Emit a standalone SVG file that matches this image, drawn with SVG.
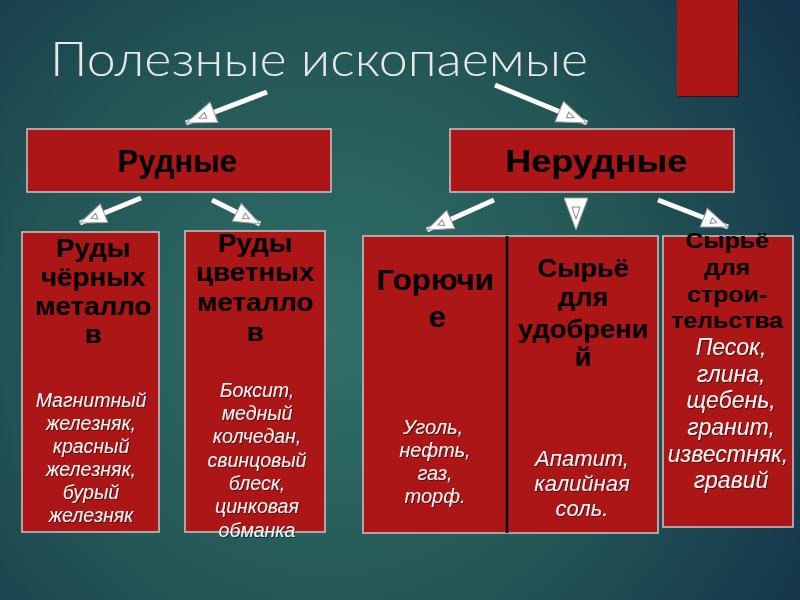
<svg xmlns="http://www.w3.org/2000/svg" width="800" height="600" viewBox="0 0 800 600">
<defs>
<radialGradient id="bg" cx="330" cy="330" r="560" gradientUnits="userSpaceOnUse">
<stop offset="0" stop-color="#307069"/>
<stop offset="0.55" stop-color="#235555"/>
<stop offset="1" stop-color="#14334a"/>
</radialGradient>
<marker id="ah" markerUnits="userSpaceOnUse" markerWidth="34" markerHeight="26" refX="31" refY="12" orient="auto">
<path d="M1,1 L31,12 L1,23 Z" fill="#ffffff" stroke="#9a9a9a" stroke-width="1"/>
<path d="M10,9 L17,12 L10,15 Z" fill="none" stroke="#8a8a8a" stroke-width="1"/>
</marker>
<marker id="ahs" markerUnits="userSpaceOnUse" markerWidth="30" markerHeight="24" refX="27" refY="11" orient="auto">
<path d="M1,1 L27,11 L1,21 Z" fill="#ffffff" stroke="#9a9a9a" stroke-width="1"/>
<path d="M9,8 L15,11 L9,14 Z" fill="none" stroke="#8a8a8a" stroke-width="1"/>
</marker>
<filter id="sh" x="-10%" y="-10%" width="120%" height="130%">
<feDropShadow dx="1" dy="1" stdDeviation="0.6" flood-color="#000" flood-opacity="0.5"/>
</filter>
</defs>
<style>
.box{fill:#ad1616;stroke:#c8c8c8;stroke-width:1.5}
.hd{font-family:"Liberation Sans",Arial,sans-serif;font-weight:bold;fill:#000;text-anchor:middle}
.it{font-family:"Liberation Sans",Arial,sans-serif;font-style:italic;fill:#f4f4f4;text-anchor:middle;filter:url(#sh)}
.arr{stroke:#ffffff;stroke-width:5;fill:none}
</style>
<rect width="800" height="600" fill="url(#bg)"/>
<rect x="677" y="0" width="61" height="96" fill="#ad1616" filter="url(#sh)"/>
<text x="50" y="76" font-family="Lato,'Liberation Sans',Arial,sans-serif" font-weight="300" font-size="48" fill="#e8e8e8" textLength="538" lengthAdjust="spacingAndGlyphs">Полезные ископаемые</text>

<g id="connectors">
<line class="arr" x1="267" y1="92" x2="186" y2="123" marker-end="url(#ah)"/>
<line class="arr" x1="495" y1="85" x2="587" y2="123" marker-end="url(#ah)"/>
<line class="arr" x1="141" y1="198" x2="80" y2="223" marker-end="url(#ahs)"/>
<line class="arr" x1="212" y1="200" x2="260" y2="224" marker-end="url(#ahs)"/>
<line class="arr" x1="494" y1="200" x2="427" y2="230" marker-end="url(#ahs)"/>
<line class="arr" x1="658" y1="200" x2="728" y2="227" marker-end="url(#ahs)"/>
<path d="M564,198 L588,198 L576,230 Z" fill="#ffffff" stroke="#9a9a9a" stroke-width="1"/>
<path d="M572,207 L580,207 L576,219 Z" fill="none" stroke="#8a8a8a" stroke-width="1"/>
</g>

<g id="rudnye">
<rect class="box" x="27" y="129" width="304" height="63"/>
<text class="hd" x="177" y="172" font-size="31">Рудные</text>
</g>
<g id="nerudnye">
<rect class="box" x="450" y="129" width="284" height="63"/>
<text class="hd" x="596" y="172" font-size="31" textLength="182" lengthAdjust="spacingAndGlyphs">Нерудные</text>
</g>

<g id="chernye">
<rect class="box" x="22" y="232" width="137" height="300"/>
<g transform="translate(93,0) scale(1.07,1) translate(-93,0)">
<text class="hd" font-size="26"><tspan x="93" y="257">Руды</tspan><tspan x="93" y="286">чёрных</tspan><tspan x="93" y="315">металло</tspan><tspan x="93" y="343">в</tspan></text>
</g>
<text class="it" font-size="19.5"><tspan x="91" y="407">Магнитный</tspan><tspan x="91" y="430">железняк,</tspan><tspan x="91" y="453">красный</tspan><tspan x="91" y="476">железняк,</tspan><tspan x="91" y="499">бурый</tspan><tspan x="91" y="522">железняк</tspan></text>
</g>

<g id="tsvetnye">
<rect class="box" x="185" y="231" width="140" height="301"/>
<g transform="translate(255,0) scale(1.07,1) translate(-255,0)">
<text class="hd" font-size="26"><tspan x="255" y="252">Руды</tspan><tspan x="255" y="281">цветных</tspan><tspan x="255" y="311">металло</tspan><tspan x="255" y="341">в</tspan></text>
</g>
<text class="it" font-size="19.5"><tspan x="257" y="397">Боксит,</tspan><tspan x="257" y="420">медный</tspan><tspan x="257" y="443">колчедан,</tspan><tspan x="257" y="467">свинцовый</tspan><tspan x="257" y="490">блеск,</tspan><tspan x="257" y="513">цинковая</tspan><tspan x="257" y="537">обманка</tspan></text>
</g>

<g id="goryuchie">
<rect class="box" x="363" y="236" width="295" height="297"/>
<line x1="507" y1="236" x2="507" y2="533" stroke="#000" stroke-width="2.5"/>
<g transform="translate(435,0) scale(1.08,1) translate(-435,0)">
<text class="hd" font-size="29"><tspan x="435" y="290">Горючи</tspan><tspan x="437" y="327">е</tspan></text>
</g>
<text class="it" font-size="20"><tspan x="433" y="434">Уголь,</tspan><tspan x="435" y="457">нефть,</tspan><tspan x="435" y="480">газ,</tspan><tspan x="435" y="503">торф.</tspan></text>
</g>

<g id="udobreniya">
<g transform="translate(583,0) scale(1.05,1) translate(-583,0)">
<text class="hd" font-size="26"><tspan x="583" y="277">Сырьё</tspan><tspan x="583" y="306">для</tspan><tspan x="583" y="338">удобрени</tspan><tspan x="583" y="366">й</tspan></text>
</g>
<text class="it" font-size="22"><tspan x="582" y="466">Апатит,</tspan><tspan x="582" y="491">калийная</tspan><tspan x="582" y="516">соль.</tspan></text>
</g>

<g id="stroitelstvo">
<rect class="box" x="663" y="236" width="130" height="291"/>
<g transform="translate(727,0) scale(1.13,1) translate(-727,0)">
<text class="hd" font-size="22"><tspan x="727" y="248">Сырьё</tspan><tspan x="727" y="275">для</tspan><tspan x="727" y="302">строи-</tspan><tspan x="727" y="328">тельства</tspan></text>
</g>
<text class="it" font-size="23"><tspan x="731" y="355">Песок,</tspan><tspan x="731" y="382">глина,</tspan><tspan x="731" y="408">щебень,</tspan><tspan x="731" y="435">гранит,</tspan><tspan x="728" y="462">известняк,</tspan><tspan x="731" y="488">гравий</tspan></text>
</g>
</svg>
